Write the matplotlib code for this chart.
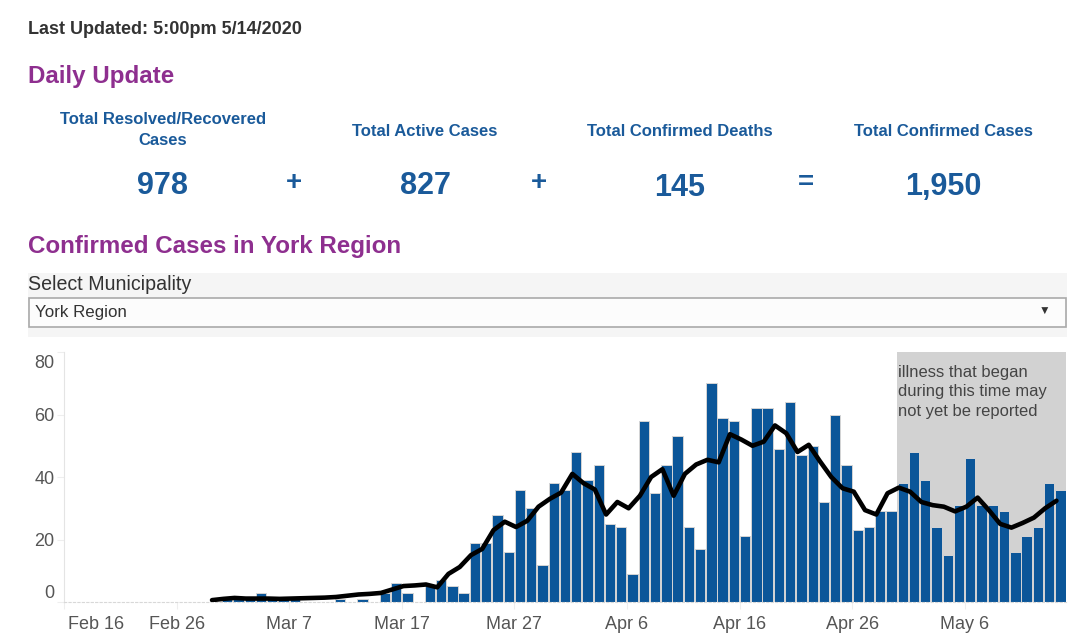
import matplotlib
matplotlib.use("Agg")
import matplotlib.pyplot as plt
from matplotlib.patches import Rectangle
from matplotlib.transforms import ScaledTranslation

plt.rcParams['font.family'] = ['Liberation Sans', 'DejaVu Sans']

W, H = 1080, 644

# ---- data (day index = days since Feb 16, 2020) ----
bar_days = list(range(14, 89))
cases = [1, 1, 1, 3, 1, 1, 1, 0, 0, 0, 1, 0, 1, 0, 3, 6, 3, 0, 5, 7, 5, 3,
         19, 19, 28, 16, 36, 30, 12, 38, 36, 48, 39, 44, 25, 24, 9, 58, 35, 44, 53, 24, 17, 70,
         59, 58, 21, 62, 62, 49, 64, 47, 50, 32, 60, 44, 23, 24, 29, 29, 38, 48, 39, 24, 15, 31,
         46, 31, 31, 29, 16, 21, 24, 38, 36]
avg_days = list(range(13, 89))
avg = [0.6, 1.0, 1.3, 1.1, 1.1, 1.1, 1.0, 1.1, 1.2, 1.3, 1.4, 1.6, 2.0, 2.4, 2.6, 2.9, 4.0, 5.1, 5.3, 5.6,
       4.7, 9.0, 11.2, 15, 17, 23, 25.7, 24, 26, 30.5, 33, 35, 41, 38, 36, 28, 32, 30, 34, 40, 42.5,
       34, 41, 44, 45.5, 44.7, 53.7, 52, 50, 51.3, 56.5, 54, 48, 50.3, 45, 40, 36.4, 35.3, 29.4, 28,
       34.8, 36.6, 35.3, 32, 31, 30.5, 29, 30.5, 33.4, 29.4, 25, 23.8, 25.3, 27, 30, 32.4]
x_tick_days = [0, 10, 20, 30, 40, 50, 60, 70, 80]
x_tick_labels = ['Feb 16', 'Feb 26', 'Mar 7', 'Mar 17', 'Mar 27', 'Apr 6', 'Apr 16', 'Apr 26', 'May 6']
y_ticks = [0, 20, 40, 60, 80]
unreported_start = 74
x_end = 89
note = "illness that began\nduring this time may\nnot yet be reported"

headers = ['Total Resolved/Recovered\nCases', 'Total Active Cases', 'Total Confirmed Deaths', 'Total Confirmed Cases']
totals = ['978', '827', '145', '1,950']
operators = ['+', '+', '=']

BLUE = '#0B5699'
TXT_BLUE = '#1A5A9A'
PURPLE = '#8E2F8F'

fig = plt.figure(figsize=(W / 100, H / 100), dpi=100, facecolor='white')


def T(x, y, s, **kw):
    kw.setdefault('ha', 'left')
    kw.setdefault('va', 'center')
    fig.text(x / W, 1 - y / H, s, **kw)


def R(x0, y0, x1, y1, **kw):
    fig.add_artist(Rectangle((x0 / W, 1 - y1 / H), (x1 - x0) / W, (y1 - y0) / H,
                             transform=fig.transFigure, **kw))


T(28, 29.5, 'Last Updated: 5:00pm 5/14/2020', fontsize=13, fontweight='bold', color='#333333')
T(28, 77, 'Daily Update', fontsize=17.4, fontweight='bold', color=PURPLE)
T(28, 246, 'Confirmed Cases in York Region', fontsize=17.4, fontweight='bold', color=PURPLE)

hx = [163, 425, 680, 943]
hy = [130, 131, 131, 131]
for x, y, s in zip(hx, hy, headers):
    T(x, y, s, ha='center', fontsize=12, fontweight='bold', color=TXT_BLUE, linespacing=1.5)
vy = [186.5, 186.5, 188, 187]
for x, y, s in zip(hx, vy, totals):
    T(x, y, s, ha='center', fontsize=22, fontweight='bold', color=TXT_BLUE)
for x, y, s in zip([294, 539, 806], [183, 183, 183], operators):
    T(x, y, s, ha='center', fontsize=20, fontweight='bold', color=TXT_BLUE)

R(28, 273, 1067, 337, facecolor='#F5F5F5', edgecolor='none')
T(28, 284, 'Select Municipality', fontsize=14.1, color='#333333')
R(29, 298, 1066, 326.5, facecolor='#FCFCFC', edgecolor='#AAAAAA', linewidth=1.2)
T(35, 312, 'York Region', fontsize=12.2, color='#333333')
T(1044, 312, '\u25BC', ha='center', fontsize=8.5, color='#333333')

# ---- chart ----
ax = fig.add_axes([64 / W, 1 - 602 / H, (1066 - 64) / W, (602 - 352) / H])
ax.set_xlim(0, x_end)
ax.set_ylim(0, 80)
ax.axvspan(unreported_start, x_end, color='#D2D2D2', lw=0, zorder=0)
ax.bar([d + 0.5 for d in bar_days], cases, width=0.92, color=BLUE,
       edgecolor='#D5D5D5', linewidth=0.7, zorder=2)
ax.plot([d + 0.15 for d in avg_days], avg, color='black', lw=3.3, solid_capstyle='round',
        solid_joinstyle='round', zorder=3)
ax.text(unreported_start + 0.1, 76, note, va='top', ha='left', fontsize=11.9,
        color='#444444', linespacing=1.4, zorder=4)

for s in ('top', 'right'):
    ax.spines[s].set_visible(False)
ax.spines['left'].set_color('#E4E4E4')
ax.spines['bottom'].set_color('#D8D8D8')
ax.spines['bottom'].set_linestyle((0, (2, 2)))
ax.set_xticks(x_tick_days)
ax.set_xticklabels(x_tick_labels)
ax.set_yticks(y_ticks)
ax.tick_params(axis='x', length=5, color='#EEEEEE', labelsize=13, labelcolor='#555555', pad=5)
ax.tick_params(axis='y', length=5, color='#EEEEEE', labelsize=13, labelcolor='#555555', pad=2)

for lab, dy in zip(ax.get_yticklabels(), [10, 0, 0, 0, -9]):
    lab.set_transform(lab.get_transform() + ScaledTranslation(0, dy / 100, fig.dpi_scale_trans))
first = ax.get_xticklabels()[0]
first.set_transform(first.get_transform() + ScaledTranslation(0.32, 0, fig.dpi_scale_trans))

fig.savefig('out.png', dpi=100)
